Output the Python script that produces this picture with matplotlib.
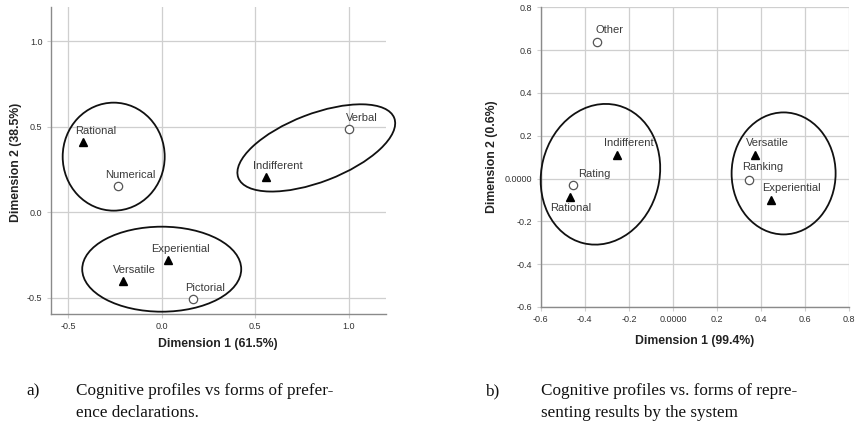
import matplotlib
matplotlib.use("Agg")
import matplotlib.pyplot as plt
from matplotlib.patches import Ellipse
from matplotlib.transforms import ScaledTranslation

# ---------------- data ----------------
# Panel a
a_tri_labels = ["Rational", "Indifferent", "Experiential", "Versatile"]
a_tri_x = [-0.42, 0.558, 0.034, -0.209]
a_tri_y = [0.413, 0.205, -0.277, -0.40]
a_circ_labels = ["Numerical", "Verbal", "Pictorial"]
a_circ_x = [-0.232, 1.004, 0.17]
a_circ_y = [0.156, 0.489, -0.505]
a_xticks = [-0.5, 0.0, 0.5, 1.0]
a_yticks = [-0.5, 0.0, 0.5, 1.0]
a_xticklabels = ["-0.5", "0.0", "0.5", "1.0"]
a_yticklabels = ["-0.5", "0.0", "0.5", "1.0"]
a_xlabel = "Dimension 1 (61.5%)"
a_ylabel = "Dimension 2 (38.5%)"

# Panel b
b_tri_labels = ["Indifferent", "Rational", "Versatile", "Experiential"]
b_tri_x = [-0.255, -0.465, 0.372, 0.443]
b_tri_y = [0.112, -0.084, 0.108, -0.102]
b_circ_labels = ["Other", "Rating", "Ranking"]
b_circ_x = [-0.346, -0.454, 0.346]
b_circ_y = [0.636, -0.031, -0.005]
b_xticks = [-0.6, -0.4, -0.2, 0.0, 0.2, 0.4, 0.6, 0.8]
b_yticks = [-0.6, -0.4, -0.2, 0.0, 0.2, 0.4, 0.6, 0.8]
b_xticklabels = ["-0.6", "-0.4", "-0.2", "0.0000", "0.2", "0.4", "0.6", "0.8"]
b_yticklabels = ["-0.6", "-0.4", "-0.2", "0.0000", "0.2", "0.4", "0.6", "0.8"]
b_xlabel = "Dimension 1 (99.4%)"
b_ylabel = "Dimension 2 (0.6%)"

caption_a = ["Cognitive profiles vs forms of prefer-", "ence declarations."]
caption_b = ["Cognitive profiles vs. forms of repre-", "senting results by the system"]

# ---------------- styling / layout ----------------
W, H = 859, 424
DPI = 100
SANS = ["Liberation Sans", "DejaVu Sans"]
SERIF = ["Liberation Serif", "DejaVu Serif"]
GRID = "#cfcfcf"
SPINE = "#8a8a8a"
LBL = "#3a3a3a"

# label offsets (pixels) per point
a_tri_off = [(12, 11)] * 4
a_circ_off = [(12, 11)] * 3
b_tri_off = [(12, 12), (0, -11), (12, 12), (21, 12)]
b_circ_off = [(13, 12), (21, 11), (13, 13)]

# ellipses: center (data), width/height (px), angle (deg)
a_ell = [((-0.257, 0.325), 102, 108, 0),
         ((0.827, 0.376), 167, 68, 21),
         ((0.0, -0.333), 159, 85, 0)]
b_ell = [((-0.329, 0.020), 118, 142, -14),
         ((0.502, 0.024), 104, 122, 0)]

fig = plt.figure(figsize=(W / DPI, H / DPI), dpi=DPI)
fig.patch.set_facecolor("white")


def px_axes(l, t, r, b):
    return fig.add_axes([l / W, 1 - b / H, (r - l) / W, (b - t) / H])


def style(ax, xt, xtl, yt, ytl):
    ax.set_xticks(xt)
    ax.set_xticklabels(xtl)
    ax.set_yticks(yt)
    ax.set_yticklabels(ytl)
    for s in ["top", "right"]:
        ax.spines[s].set_visible(False)
    for s in ["left", "bottom"]:
        ax.spines[s].set_color(SPINE)
        ax.spines[s].set_linewidth(1.0)
    ax.grid(True, color=GRID, linewidth=0.9)
    ax.set_axisbelow(True)
    ax.tick_params(axis="both", length=3, width=0.8, color=GRID,
                   labelsize=6.5, labelcolor="#333333", pad=3)
    for t in ax.get_xticklabels() + ax.get_yticklabels():
        t.set_fontfamily(SANS)


def draw_points(ax, tx, ty, tl, toff, cx, cy, cl, coff):
    ax.plot(tx, ty, linestyle="none", marker="^", markersize=5.5,
            color="black", zorder=4)
    ax.plot(cx, cy, linestyle="none", marker="o", markersize=6,
            markerfacecolor="white", markeredgecolor="#555555",
            markeredgewidth=0.9, zorder=4)
    for x, y, s, o in list(zip(tx, ty, tl, toff)) + list(zip(cx, cy, cl, coff)):
        ax.annotate(s, (x, y), xytext=o, textcoords="offset pixels",
                    ha="center", va="center", fontsize=8, color=LBL,
                    family=SANS, zorder=5)


def draw_ellipses(ax, ells):
    for (c, w, h, ang) in ells:
        tr = fig.dpi_scale_trans + ScaledTranslation(c[0], c[1], ax.transData)
        e = Ellipse((0, 0), w / DPI, h / DPI, angle=ang, transform=tr,
                    fill=False, edgecolor="#111111", linewidth=1.3, zorder=3,
                    clip_on=False)
        ax.add_patch(e)


# Panel a
axa = px_axes(50.7, 7, 386, 314)
axa.set_xlim(-0.594, 1.2)
axa.set_ylim(-0.595, 1.2)
style(axa, a_xticks, a_xticklabels, a_yticks, a_yticklabels)
draw_ellipses(axa, a_ell)
draw_points(axa, a_tri_x, a_tri_y, a_tri_labels, a_tri_off,
            a_circ_x, a_circ_y, a_circ_labels, a_circ_off)

# Panel b
axb = px_axes(540.7, 7.3, 849.3, 307)
axb.set_xlim(-0.6, 0.8)
axb.set_ylim(-0.6, 0.8)
style(axb, b_xticks, b_xticklabels, b_yticks, b_yticklabels)
draw_ellipses(axb, b_ell)
draw_points(axb, b_tri_x, b_tri_y, b_tri_labels, b_tri_off,
            b_circ_x, b_circ_y, b_circ_labels, b_circ_off)


def ftext(x, y, s, **kw):
    fig.text(x / W, 1 - y / H, s, **kw)


lab_kw = dict(fontsize=8.8, fontweight="bold", color="#222222", family=SANS,
              ha="center", va="center")
ftext(218.3, 344, a_xlabel, **lab_kw)
ftext(15.7, 162, a_ylabel, rotation=90, **lab_kw)
ftext(695, 341, b_xlabel, **lab_kw)
ftext(491.7, 157, b_ylabel, rotation=90, **lab_kw)

cap_kw = dict(fontsize=12.3, color="#111111", family=SERIF, ha="left",
              va="baseline")
ftext(26.7, 395, "a)", **cap_kw)
ftext(76, 395, caption_a[0], **cap_kw)
ftext(76, 417, caption_a[1], **cap_kw)
ftext(485, 395, "b)", **cap_kw)
ftext(541, 395, caption_b[0], **cap_kw)
ftext(541, 417, caption_b[1], **cap_kw)

fig.savefig("out.png", dpi=DPI, facecolor="white")
